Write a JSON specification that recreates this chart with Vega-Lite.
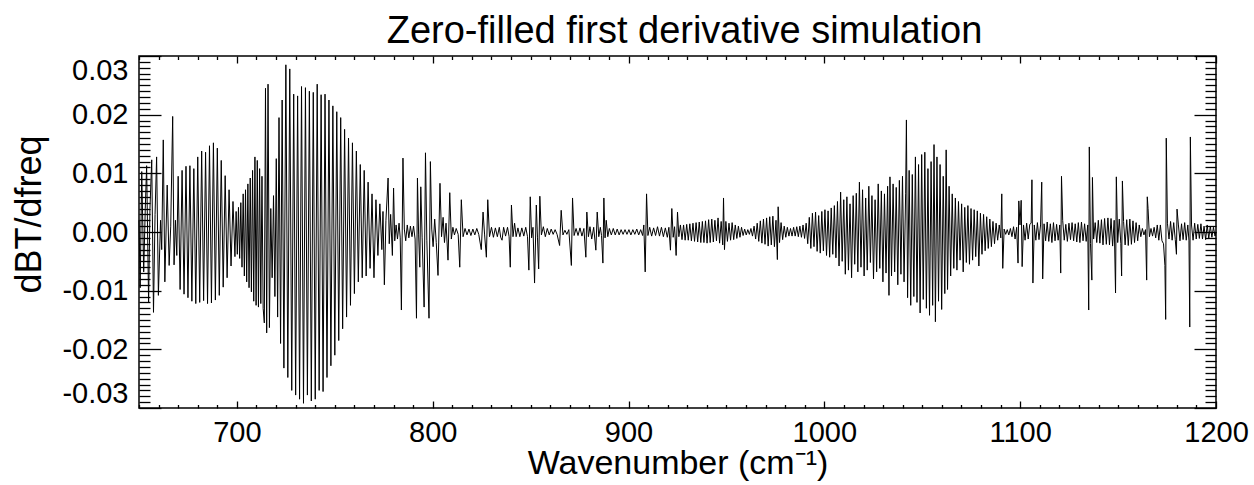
{
"$schema": "https://vega.github.io/schema/vega-lite/v6.json",
"width": 1077, "height": 352,
"autosize": "none",
"padding": {"left": 139, "top": 56, "right": 38, "bottom": 77},
"background": "white",
"config": {"view": {"stroke": "black", "strokeWidth": 1.5}, "font": "Liberation Sans"},
"title": {"text": "Zero-filled first derivative simulation", "fontSize": 38, "font": "Liberation Sans", "fontWeight": "normal", "color": "black", "anchor": "middle", "baseline": "bottom", "offset": 5, "dy": 46, "dx": 7},
"datasets": {
"frame": [{"x": 650, "y": 0}],
"spec": [
{"x":650.0,"y":0.002},{"x":650.6,"y":-0.0095},{"x":651.4,"y":0.0103},{"x":652.4,"y":-0.0068},{"x":653.2,"y":0.004},{"x":653.9,"y":0.0113},{"x":654.9,"y":-0.012},{"x":655.6,"y":0.004},{"x":656.5,"y":0.0123},{"x":657.4,"y":-0.0137},{"x":658.2,"y":0.003},{"x":659.0,"y":0.0128},{"x":659.9,"y":-0.0108},{"x":661.0,"y":0.002},{"x":661.6,"y":-0.003},{"x":662.4,"y":0.0157},{"x":663.2,"y":-0.0085},{"x":664.4,"y":0.008},{"x":665.4,"y":-0.0057},{"x":666.2,"y":0.001},{"x":667.2,"y":0.0197},{"x":667.9,"y":-0.0056},{"x":668.6,"y":0.002},{"x":669.3,"y":-0.004},
{"x":670.0,"y":0.0095},{"x":671.0,"y":-0.0098},{"x":672.0,"y":0.0105},{"x":673.0,"y":-0.0106},{"x":674.0,"y":0.0112},{"x":675.0,"y":-0.0112},{"x":676.0,"y":0.0113},{"x":677.0,"y":-0.0118},{"x":678.0,"y":0.0108},{"x":679.0,"y":-0.0122},{"x":680.0,"y":0.0128},{"x":681.0,"y":-0.012},{"x":682.0,"y":0.0138},{"x":683.0,"y":-0.0117},{"x":684.0,"y":0.0136},{"x":685.0,"y":-0.0122},{"x":686.0,"y":0.0147},{"x":687.0,"y":-0.0121},{"x":688.0,"y":0.0152},{"x":689.0,"y":-0.0116},{"x":690.0,"y":0.0143},{"x":691.0,"y":-0.0108},{"x":692.0,"y":0.0122},{"x":693.0,"y":-0.0094},{"x":694.0,"y":0.0096},{"x":695.0,"y":-0.0078},{"x":696.0,"y":0.0072},{"x":697.0,"y":-0.0058},{"x":698.0,"y":0.0052},{"x":699.0,"y":-0.0042},
{"x":699.6,"y":0.0035},{"x":700.2,"y":-0.0038},{"x":700.8,"y":0.0042},{"x":701.4,"y":-0.0045},{"x":702.0,"y":0.005},{"x":702.6,"y":-0.006},{"x":703.2,"y":0.0065},{"x":703.8,"y":-0.0075},{"x":704.4,"y":0.0072},{"x":705.0,"y":-0.0085},{"x":705.6,"y":0.0082},{"x":706.2,"y":-0.0095},{"x":706.8,"y":0.0092},{"x":707.4,"y":-0.0102},{"x":708.0,"y":0.0105},{"x":708.6,"y":-0.0118},{"x":709.2,"y":0.0128},{"x":709.8,"y":-0.0125},{"x":710.4,"y":0.0122},{"x":711.0,"y":-0.0128},{"x":711.6,"y":0.0108},{"x":712.2,"y":-0.0122},{"x":712.8,"y":0.0095},{"x":713.4,"y":-0.013},
{"x":714.0,"y":-0.0155},{"x":714.6,"y":0.0245},{"x":715.2,"y":-0.0172},{"x":715.9,"y":0.0252},{"x":716.6,"y":-0.0163},{"x":717.3,"y":0.004},{"x":718.0,"y":-0.0078},{"x":718.7,"y":0.0062},{"x":719.4,"y":-0.011},{"x":720.1,"y":0.0125},{"x":720.8,"y":-0.0145},{"x":721.5,"y":0.0195},{"x":722.3,"y":-0.019},{"x":723.1,"y":0.0225},{"x":724.0,"y":-0.0232},{"x":725.0,"y":0.0285},{"x":726.0,"y":-0.0248},{"x":727.0,"y":0.0278},{"x":728.0,"y":-0.027},{"x":729.0,"y":0.0235},{"x":730.0,"y":-0.0278},{"x":731.0,"y":0.0232},{"x":732.0,"y":-0.0285},{"x":733.0,"y":0.0248},{"x":734.0,"y":-0.0292},{"x":735.0,"y":0.0246},{"x":736.0,"y":-0.0278},{"x":737.0,"y":0.024},{"x":738.0,"y":-0.0288},{"x":739.0,"y":0.0238},{"x":740.0,"y":-0.0285},{"x":741.0,"y":0.0252},{"x":742.0,"y":-0.027},{"x":743.0,"y":0.0234},{"x":744.0,"y":-0.0272},
{"x":745.0,"y":0.0235},{"x":746.0,"y":-0.0248},{"x":747.0,"y":0.0225},{"x":748.0,"y":-0.0228},{"x":749.0,"y":0.0215},{"x":750.0,"y":-0.021},{"x":751.0,"y":0.0205},{"x":752.0,"y":-0.0185},{"x":753.0,"y":0.0195},{"x":754.0,"y":-0.0165},{"x":755.0,"y":0.0175},{"x":756.0,"y":-0.0145},{"x":757.0,"y":0.016},{"x":758.0,"y":-0.0125},{"x":759.0,"y":0.0152},{"x":760.0,"y":-0.0105},{"x":761.0,"y":0.0138},{"x":762.0,"y":-0.0085},{"x":763.0,"y":0.0115},{"x":764.0,"y":-0.0078},{"x":765.0,"y":0.0105},{"x":766.0,"y":-0.0075},{"x":767.0,"y":0.0085},{"x":768.0,"y":-0.0062},{"x":769.0,"y":0.0065},{"x":770.0,"y":-0.0078},{"x":771.0,"y":0.0055},{"x":772.0,"y":-0.004},{"x":773.0,"y":0.0048},{"x":774.0,"y":-0.003},{"x":774.6,"y":0.0035},{"x":775.3,"y":-0.009},{"x":776.1,"y":0.002},{"x":777.2,"y":0.0092},{"x":777.8,"y":-0.002},{"x":778.5,"y":0.003},{"x":779.4,"y":-0.004},{"x":780.0,"y":0.0075},{"x":780.6,"y":-0.0015},{"x":781.3,"y":0.0012},{"x":782.0,"y":-0.0012},{"x":782.8,"y":0.0015},{"x":783.4,"y":-0.001},
{"x":784.0,"y":-0.0133},{"x":784.8,"y":0.0126},{"x":785.5,"y":0.0005},{"x":786.2,"y":-0.0015},{"x":787.0,"y":0.0012},{"x":787.8,"y":-0.001},{"x":788.6,"y":0.001},{"x":789.4,"y":-0.0008},{"x":790.2,"y":0.001},{"x":791.0,"y":-0.0012},{"x":791.7,"y":-0.0147},{"x":792.2,"y":0.0092},{"x":792.8,"y":-0.0005},{"x":793.4,"y":-0.006},{"x":793.9,"y":0.0077},{"x":794.6,"y":-0.001},{"x":795.6,"y":-0.0128},{"x":796.3,"y":0.0135},{"x":797.0,"y":-0.0015},{"x":798.1,"y":-0.0147},{"x":798.8,"y":0.012},{"x":799.5,"y":0.0005},
{"x":800.2,"y":-0.0025},{"x":801.0,"y":0.0022},{"x":801.8,"y":-0.0018},{"x":802.7,"y":-0.0074},{"x":803.7,"y":0.0083},{"x":804.5,"y":-0.0008},{"x":805.3,"y":0.0025},{"x":806.0,"y":-0.0018},{"x":806.8,"y":0.0015},{"x":807.8,"y":-0.0048},{"x":808.7,"y":0.0067},{"x":809.5,"y":-0.0012},{"x":810.3,"y":0.0008},{"x":811.1,"y":-0.0005},{"x":812.0,"y":0.0006},{"x":813.0,"y":-0.0004},{"x":813.8,"y":-0.006},{"x":814.6,"y":0.0055},{"x":815.5,"y":-0.0008},
{"x":816.5,"y":0.0006},{"x":817.5,"y":-0.0005},{"x":818.5,"y":0.0005},{"x":819.5,"y":-0.0006},{"x":820.5,"y":0.0005},{"x":821.5,"y":-0.0005},{"x":822.5,"y":0.0006},{"x":823.5,"y":-0.0004},{"x":824.8,"y":-0.003},{"x":825.7,"y":0.0034},{"x":826.5,"y":-0.0005},{"x":827.4,"y":-0.0043},{"x":828.1,"y":0.0055},{"x":829.0,"y":-0.0008},{"x":830.0,"y":0.0008},{"x":831.0,"y":-0.0009},{"x":832.0,"y":0.0007},{"x":833.0,"y":-0.0008},{"x":834.0,"y":0.0008},{"x":834.7,"y":-0.0009},{"x":835.4,"y":-0.0014},{"x":836.2,"y":0.0008},{"x":837.2,"y":-0.0007},{"x":838.2,"y":0.0008},{"x":839.0,"y":-0.0008},{"x":839.6,"y":-0.006},{"x":840.2,"y":0.0046},{"x":841.0,"y":-0.0008},{"x":841.8,"y":0.0015},{"x":842.6,"y":-0.0008},{"x":843.5,"y":0.0007},{"x":844.5,"y":-0.0008},{"x":845.5,"y":0.0007},{"x":846.5,"y":-0.0007},{"x":847.5,"y":0.0008},{"x":848.4,"y":-0.0008},{"x":849.1,"y":-0.0065},{"x":849.8,"y":0.006},{"x":850.5,"y":-0.001},{"x":851.2,"y":0.0008},{"x":852.0,"y":-0.0087},{"x":852.9,"y":0.0046},{"x":853.5,"y":-0.001},{"x":854.1,"y":-0.0063},{"x":854.7,"y":0.0061},{"x":855.5,"y":-0.0005},{"x":856.5,"y":0.0009},{"x":857.5,"y":-0.0008},{"x":858.5,"y":0.0006},{"x":859.5,"y":-0.0005},{"x":860.5,"y":0.0005},{"x":861.5,"y":-0.0004},{"x":862.5,"y":0.0004},{"x":863.5,"y":-0.0004},{"x":864.8,"y":-0.0023},{"x":865.6,"y":0.0037},{"x":866.5,"y":-0.0005},{"x":867.5,"y":0.0003},{"x":868.5,"y":-0.0004},{"x":869.5,"y":0.0004},{"x":870.8,"y":-0.0057},{"x":871.4,"y":0.0058},{"x":872.2,"y":-0.0006},{"x":873.2,"y":0.0006},{"x":874.2,"y":-0.0006},{"x":875.2,"y":0.0007},{"x":876.2,"y":-0.0007},{"x":877.2,"y":0.0006},{"x":878.2,"y":-0.0043},{"x":878.7,"y":0.0034},{"x":879.5,"y":-0.0008},{"x":880.3,"y":0.0009},{"x":881.2,"y":-0.0012},{"x":882.2,"y":0.0008},{"x":883.3,"y":-0.0031},{"x":884.0,"y":0.0034},{"x":884.8,"y":-0.0008},{"x":885.6,"y":0.0008},{"x":886.2,"y":-0.0006},{"x":886.9,"y":-0.0053},{"x":887.4,"y":0.0058},{"x":888.0,"y":-0.001},{"x":888.6,"y":0.002},{"x":889.4,"y":-0.0008},{"x":890.2,"y":0.0006},{"x":891.2,"y":-0.0005},{"x":892.2,"y":0.0006},{"x":893.2,"y":-0.0005},{"x":894.2,"y":0.0005},{"x":895.2,"y":-0.0005},{"x":896.2,"y":0.0004},{"x":897.2,"y":-0.0004},{"x":898.2,"y":0.0004},{"x":899.2,"y":-0.0004},{"x":900.2,"y":0.0004},{"x":901.2,"y":-0.0005},{"x":902.2,"y":0.0004},{"x":903.2,"y":-0.0004},{"x":904.2,"y":0.0005},{"x":905.2,"y":-0.0005},{"x":906.2,"y":0.0004},{"x":907.2,"y":-0.0006},{"x":907.8,"y":0.0012},{"x":908.5,"y":-0.0068},{"x":909.2,"y":0.0065},{"x":909.9,"y":-0.0006},{"x":910.8,"y":0.0008},{"x":911.8,"y":-0.0007},{"x":912.8,"y":0.0007},{"x":913.8,"y":-0.0006},{"x":914.8,"y":0.0009},{"x":915.8,"y":-0.0007},{"x":916.8,"y":0.0008},{"x":917.8,"y":-0.0008},{"x":918.8,"y":0.0007},{"x":919.8,"y":-0.0009},{"x":920.6,"y":0.0008},{"x":921.4,"y":-0.0031},{"x":922.1,"y":0.004},{"x":922.8,"y":-0.0009},{"x":923.5,"y":0.0009},{"x":924.3,"y":-0.004},{"x":925.0,"y":0.0034},{"x":925.7,"y":-0.0008},{"x":926.5,"y":0.0012},{"x":927.3,"y":-0.0013},{"x":928.1,"y":0.0012},{"x":928.9,"y":-0.0014},{"x":929.7,"y":0.0013},{"x":930.5,"y":-0.0014},{"x":931.3,"y":0.0014},{"x":932.1,"y":-0.0015},{"x":932.9,"y":0.0015},{"x":933.7,"y":-0.0016},{"x":934.5,"y":0.0016},{"x":935.3,"y":-0.0017},{"x":936.1,"y":0.0017},{"x":936.9,"y":-0.0018},{"x":937.7,"y":0.0018},{"x":938.5,"y":-0.0018},{"x":939.3,"y":0.0019},{"x":940.1,"y":-0.0019},{"x":940.9,"y":0.0021},
{"x":941.7,"y":-0.0018},{"x":942.5,"y":0.0022},{"x":943.3,"y":-0.0017},{"x":944.1,"y":0.002},{"x":944.9,"y":-0.0015},{"x":945.7,"y":0.0024},{"x":946.5,"y":-0.0019},{"x":947.3,"y":0.0018},{"x":948.1,"y":-0.0022},{"x":948.5,"y":0.0058},{"x":949.0,"y":-0.003},{"x":949.7,"y":0.0018},{"x":950.5,"y":-0.0016},{"x":951.3,"y":0.0015},{"x":952.1,"y":-0.0014},{"x":952.9,"y":0.0016},{"x":953.7,"y":-0.0013},{"x":954.5,"y":0.0012},{"x":955.3,"y":-0.0011},{"x":956.1,"y":0.001},{"x":956.9,"y":-0.0009},{"x":957.7,"y":0.0008},{"x":958.5,"y":-0.0006},{"x":959.3,"y":0.0005},{"x":960.1,"y":-0.0005},{"x":960.9,"y":0.0004},{"x":961.7,"y":-0.0004},{"x":962.5,"y":0.0006},{"x":963.3,"y":-0.0007},{"x":964.1,"y":0.001},{"x":964.9,"y":-0.0012},{"x":965.7,"y":0.0015},{"x":966.5,"y":-0.0016},{"x":967.3,"y":0.0019},{"x":968.1,"y":-0.0019},{"x":968.9,"y":0.0022},{"x":969.7,"y":-0.0021},{"x":970.5,"y":0.0024},{"x":971.3,"y":-0.0024},{"x":972.1,"y":0.0026},{"x":972.9,"y":-0.0022},{"x":973.7,"y":0.0027},{"x":974.5,"y":-0.0025},{"x":975.3,"y":0.002},{"x":976.0,"y":-0.0047},{"x":976.4,"y":0.0043},{"x":977.1,"y":-0.0018},{"x":977.9,"y":0.0016},{"x":978.7,"y":-0.0013},{"x":979.5,"y":0.001},{"x":980.3,"y":-0.0009},{"x":981.1,"y":0.0008},{"x":981.9,"y":-0.0007},{"x":982.7,"y":0.0006},{"x":983.5,"y":-0.0007},{"x":984.3,"y":0.0008},{"x":985.1,"y":-0.0007},{"x":985.9,"y":0.0009},{"x":986.7,"y":-0.0008},{"x":987.5,"y":0.001},{"x":988.3,"y":-0.0009},{"x":989.1,"y":0.0012},{"x":989.9,"y":-0.0011},{"x":990.7,"y":0.0015},{"x":991.5,"y":-0.002},{"x":992.3,"y":0.0025},{"x":993.1,"y":-0.0028},{"x":993.9,"y":0.0032},{"x":994.7,"y":-0.0025},{"x":995.5,"y":0.0034},{"x":996.3,"y":-0.0033},{"x":997.1,"y":0.0028},{"x":997.9,"y":-0.0036},{"x":998.7,"y":0.0035},{"x":999.5,"y":-0.0032},{"x":1000.3,"y":0.0038},{"x":1001.1,"y":-0.004},{"x":1001.9,"y":0.0036},{"x":1002.7,"y":-0.0043},{"x":1003.5,"y":0.0041},{"x":1004.3,"y":-0.0038},{"x":1005.1,"y":0.0045},{"x":1005.9,"y":-0.0044},{"x":1006.7,"y":0.0052},{"x":1007.5,"y":-0.0058},{"x":1008.3,"y":0.0068},{"x":1009.1,"y":-0.005},{"x":1009.9,"y":0.0055},{"x":1010.7,"y":-0.0072},{"x":1011.5,"y":0.006},{"x":1012.3,"y":-0.0065},{"x":1013.1,"y":0.0048},{"x":1013.9,"y":-0.0078},{"x":1014.7,"y":0.0062},{"x":1015.5,"y":-0.0055},{"x":1016.3,"y":0.0066},{"x":1017.1,"y":-0.0068},{"x":1017.9,"y":0.0085},{"x":1018.7,"y":-0.006},{"x":1019.5,"y":0.0072},{"x":1020.3,"y":-0.0075},{"x":1021.1,"y":0.0058},{"x":1021.9,"y":-0.0065},{"x":1022.7,"y":0.0078},{"x":1023.5,"y":-0.0052},{"x":1024.3,"y":0.0062},{"x":1025.1,"y":-0.008},{"x":1025.9,"y":0.0055},{"x":1026.7,"y":-0.0068},{"x":1027.5,"y":0.0082},{"x":1028.3,"y":-0.0062},{"x":1029.1,"y":0.007},{"x":1029.9,"y":-0.0085},{"x":1030.7,"y":0.0065},{"x":1031.5,"y":-0.007},{"x":1032.3,"y":0.0078},{"x":1033.0,"y":-0.0108},{"x":1033.5,"y":0.0094},{"x":1034.3,"y":-0.0075},{"x":1035.1,"y":0.0082},{"x":1035.9,"y":-0.0068},{"x":1036.7,"y":0.0076},{"x":1037.5,"y":-0.009},{"x":1038.3,"y":0.0088},{"x":1039.1,"y":-0.0072},{"x":1039.9,"y":0.0095},{"x":1040.7,"y":-0.0085},{"x":1041.5,"y":0.0065},{"x":1041.9,"y":0.0191},{"x":1042.5,"y":-0.0112},{"x":1043.3,"y":0.0105},{"x":1044.1,"y":-0.0125},{"x":1044.9,"y":0.0098},{"x":1045.7,"y":-0.011},{"x":1046.5,"y":0.0128},{"x":1047.3,"y":-0.012},{"x":1048.1,"y":0.0115},{"x":1048.9,"y":-0.0138},{"x":1049.7,"y":0.0132},{"x":1050.5,"y":-0.0115},{"x":1051.3,"y":0.0136},{"x":1052.1,"y":-0.013},{"x":1052.9,"y":0.0108},{"x":1053.7,"y":-0.0142},{"x":1054.5,"y":0.012},{"x":1055.3,"y":-0.0125},{"x":1056.0,"y":0.0149},{"x":1056.7,"y":-0.0153},{"x":1057.5,"y":0.0128},{"x":1058.3,"y":-0.0118},{"x":1059.1,"y":0.0115},{"x":1059.9,"y":-0.0132},{"x":1060.7,"y":0.0095},{"x":1061.5,"y":-0.0105},{"x":1062.2,"y":0.014},{"x":1062.9,"y":-0.0098},{"x":1063.7,"y":0.0078},{"x":1064.5,"y":-0.0075},{"x":1065.3,"y":0.0065},{"x":1066.1,"y":-0.0062},{"x":1066.9,"y":0.0058},{"x":1067.7,"y":-0.0065},{"x":1068.5,"y":0.0052},{"x":1069.3,"y":-0.0048},{"x":1070.1,"y":0.0048},{"x":1070.9,"y":-0.0068},{"x":1071.7,"y":0.0042},{"x":1072.5,"y":-0.0052},{"x":1073.3,"y":0.0045},{"x":1074.1,"y":-0.0055},{"x":1074.9,"y":0.004},{"x":1075.7,"y":-0.0048},{"x":1076.5,"y":0.0038},{"x":1077.3,"y":-0.0042},{"x":1078.1,"y":0.0036},{"x":1078.9,"y":-0.0058},{"x":1079.7,"y":0.0032},{"x":1080.5,"y":-0.0038},{"x":1081.3,"y":0.003},{"x":1082.1,"y":-0.0032},{"x":1082.9,"y":0.0026},{"x":1083.7,"y":-0.0028},{"x":1084.5,"y":0.0022},{"x":1085.3,"y":-0.0025},{"x":1086.1,"y":0.0018},{"x":1086.9,"y":-0.002},{"x":1087.7,"y":0.0015},{"x":1088.5,"y":-0.0014},{"x":1089.3,"y":0.0012},{"x":1090.1,"y":-0.001},{"x":1090.6,"y":0.0065},{"x":1091.1,"y":-0.0062},
{"x":1091.8,"y":0.0005},{"x":1092.6,"y":-0.0004},{"x":1093.4,"y":0.0004},{"x":1094.2,"y":-0.0005},{"x":1095.0,"y":0.0006},{"x":1095.8,"y":-0.0008},{"x":1096.6,"y":0.0009},{"x":1097.4,"y":-0.0012},{"x":1098.2,"y":0.0008},{"x":1098.9,"y":-0.0053},{"x":1099.3,"y":0.0053},{"x":1099.9,"y":0.0012},{"x":1100.5,"y":0.0054},{"x":1101.0,"y":-0.0059},{"x":1101.7,"y":0.0012},{"x":1102.5,"y":-0.0014},{"x":1103.3,"y":0.0015},{"x":1104.1,"y":-0.0012},{"x":1104.9,"y":0.0013},{"x":1105.6,"y":0.0015},{"x":1106.0,"y":0.0089},{"x":1106.5,"y":-0.0087},{"x":1107.2,"y":0.0012},{"x":1108.0,"y":-0.0014},{"x":1108.8,"y":0.0016},{"x":1109.6,"y":-0.0013},{"x":1110.4,"y":0.0012},{"x":1111.0,"y":0.0085},{"x":1111.5,"y":-0.008},{"x":1112.2,"y":0.0014},{"x":1113.0,"y":-0.0015},{"x":1113.8,"y":0.0017},{"x":1114.6,"y":-0.0016},{"x":1115.4,"y":0.0014},{"x":1116.2,"y":-0.0018},{"x":1117.0,"y":0.0016},{"x":1117.8,"y":-0.0015},{"x":1118.6,"y":0.0013},{"x":1119.4,"y":-0.0014},{"x":1120.2,"y":0.0012},{"x":1120.7,"y":-0.007},{"x":1121.1,"y":0.0095},{"x":1121.7,"y":0.002},{"x":1122.5,"y":-0.0014},{"x":1123.3,"y":0.0013},{"x":1124.1,"y":-0.0016},{"x":1124.9,"y":0.0015},{"x":1125.7,"y":-0.0013},{"x":1126.5,"y":0.0016},{"x":1127.3,"y":-0.0015},{"x":1128.1,"y":0.0014},{"x":1128.9,"y":-0.0017},{"x":1129.7,"y":0.0016},{"x":1130.5,"y":-0.0018},{"x":1131.3,"y":0.0017},{"x":1132.1,"y":-0.0015},{"x":1132.9,"y":0.0014},{"x":1133.7,"y":-0.0016},{"x":1134.5,"y":0.0012},{"x":1135.0,"y":-0.0133},{"x":1135.3,"y":0.0145},{"x":1135.9,"y":-0.002},{"x":1136.6,"y":-0.0082},{"x":1136.9,"y":0.0093},{"x":1137.5,"y":-0.0012},{"x":1138.3,"y":0.0016},{"x":1139.1,"y":-0.0018},{"x":1139.9,"y":0.002},{"x":1140.7,"y":-0.0019},{"x":1141.5,"y":0.0021},{"x":1142.3,"y":-0.0022},{"x":1143.1,"y":0.0023},{"x":1144.0,"y":-0.0021},{"x":1144.8,"y":0.0024},{"x":1145.6,"y":-0.0022},{"x":1146.4,"y":0.0023},{"x":1147.2,"y":-0.0024},{"x":1148.0,"y":0.002},{"x":1148.7,"y":-0.0104},{"x":1149.1,"y":0.0094},{"x":1149.8,"y":-0.0018},{"x":1150.6,"y":0.0022},{"x":1151.4,"y":-0.002},{"x":1151.8,"y":-0.0075},{"x":1152.2,"y":0.0087},{"x":1152.8,"y":0.0018},{"x":1153.6,"y":-0.0022},{"x":1154.4,"y":0.0021},{"x":1155.2,"y":-0.0023},{"x":1156.0,"y":0.0022},{"x":1156.8,"y":-0.0021},{"x":1157.6,"y":0.0019},{"x":1158.4,"y":-0.0018},{"x":1159.2,"y":0.0016},{"x":1160.0,"y":-0.0015},{"x":1160.8,"y":0.0012},{"x":1161.6,"y":-0.0008},{"x":1162.4,"y":0.0006},{"x":1163.2,"y":-0.0005},{"x":1164.0,"y":0.0004},{"x":1164.6,"y":-0.0082},{"x":1164.9,"y":0.006},{"x":1165.3,"y":0.004},{"x":1166.0,"y":-0.0008},{"x":1166.8,"y":0.0006},{"x":1167.6,"y":-0.0007},{"x":1168.4,"y":0.0008},{"x":1169.2,"y":-0.001},{"x":1170.0,"y":0.0012},{"x":1170.8,"y":-0.0014},{"x":1171.6,"y":0.0012},{"x":1172.4,"y":-0.0015},{"x":1173.2,"y":-0.002},{"x":1173.9,"y":-0.0057},{"x":1174.3,"y":-0.0149},{"x":1174.6,"y":0.016},{"x":1175.2,"y":0.0015},{"x":1176.0,"y":-0.0012},{"x":1176.8,"y":0.0018},{"x":1177.6,"y":-0.0014},{"x":1178.4,"y":0.0016},{"x":1179.2,"y":-0.0013},{"x":1179.8,"y":-0.0038},{"x":1180.1,"y":0.0039},{"x":1180.8,"y":0.0012},{"x":1181.6,"y":-0.0015},{"x":1182.4,"y":0.0014},{"x":1183.2,"y":-0.0013},{"x":1184.0,"y":0.0016},{"x":1184.8,"y":-0.0014},{"x":1185.6,"y":0.0012},{"x":1186.2,"y":-0.0015},{"x":1186.6,"y":-0.0162},{"x":1186.9,"y":0.0162},{"x":1187.5,"y":0.0012},{"x":1188.3,"y":-0.0014},{"x":1189.1,"y":0.0015},{"x":1189.9,"y":-0.0012},{"x":1190.7,"y":0.0013},{"x":1191.5,"y":-0.0011},{"x":1192.3,"y":0.0014},{"x":1193.1,"y":-0.0012},{"x":1193.9,"y":0.001},{"x":1194.7,"y":-0.0013},{"x":1195.5,"y":0.0012},{"x":1196.3,"y":-0.0011},{"x":1197.1,"y":0.001},{"x":1197.9,"y":-0.0009},{"x":1198.7,"y":0.0008},{"x":1199.5,"y":-0.0007},{"x":1200.0,"y":0.0}
]
},
"layer": [
{
"data": {"name": "spec"},
"mark": {"type": "line", "color": "black", "strokeWidth": 1},
"encoding": {
"x": {"field": "x", "type": "quantitative",
 "scale": {"domain": [650, 1200], "nice": false, "zero": false},
 "axis": {"orient": "bottom", "title": "Wavenumber (cm⁻¹)", "titleFont": "Liberation Sans", "titleFontSize": 34, "titleFontWeight": "normal", "titleColor": "black", "titleBaseline": "alphabetic", "titleY": 65,
  "values": [650,660,670,680,690,700,710,720,730,740,750,760,770,780,790,800,810,820,830,840,850,860,870,880,890,900,910,920,930,940,950,960,970,980,990,1000,1010,1020,1030,1040,1050,1060,1070,1080,1090,1100,1110,1120,1130,1140,1150,1160,1170,1180,1190,1200],
  "labelExpr": "datum.value % 100 === 0 ? toString(datum.value) : ''",
  "labelFont": "Liberation Sans", "labelFontSize": 29, "labelColor": "black", "labelPadding": 17, "labelFlush": false, "labelOverlap": false, "labelBound": false,
  "tickSize": {"condition": {"test": "datum.value % 100 === 0", "value": -7}, "value": -3.5},
  "tickColor": "black", "tickWidth": 1.3, "domain": false, "grid": false}},
"y": {"field": "y", "type": "quantitative",
 "scale": {"domain": [-0.03, 0.03], "nice": false, "zero": false},
 "axis": {"orient": "left", "title": "dBT/dfreq", "titleFont": "Liberation Sans", "titleFontSize": 36, "titleFontWeight": "normal", "titleColor": "black", "titleBaseline": "alphabetic", "titleX": -99, "titleY": 158, "titleAngle": 270,
  "values": [-0.03,-0.029,-0.028,-0.027,-0.026,-0.025,-0.024,-0.023,-0.022,-0.021,-0.02,-0.019,-0.018,-0.017,-0.016,-0.015,-0.014,-0.013,-0.012,-0.011,-0.01,-0.009,-0.008,-0.007,-0.006,-0.005,-0.004,-0.003,-0.002,-0.001,0,0.001,0.002,0.003,0.004,0.005,0.006,0.007,0.008,0.009,0.01,0.011,0.012,0.013,0.014,0.015,0.016,0.017,0.018,0.019,0.02,0.021,0.022,0.023,0.024,0.025,0.026,0.027,0.028,0.029,0.03],
  "labelExpr": "abs(round(datum.value*1000)) % 10 === 0 ? (datum.value < -0.0005 ? '-' : '') + format(abs(datum.value), '.2f') : ''",
  "labelFont": "Liberation Sans", "labelFontSize": 29, "labelColor": "black", "labelPadding": 33, "labelFlush": true, "labelFlushOffset": 0, "labelOverlap": false, "labelBound": false,
  "tickSize": {"condition": {"test": "abs(round(datum.value*1000)) % 10 === 0", "value": -22}, "value": -11},
  "tickColor": "black", "tickWidth": 1.3, "domain": false, "grid": false}}
}
},
{
"data": {"name": "frame"},
"mark": {"type": "point", "opacity": 0},
"encoding": {
"x": {"field": "x", "type": "quantitative",
 "scale": {"domain": [650, 1200], "nice": false, "zero": false},
 "axis": {"orient": "top", "title": null, "labels": false,
  "values": [650,660,670,680,690,700,710,720,730,740,750,760,770,780,790,800,810,820,830,840,850,860,870,880,890,900,910,920,930,940,950,960,970,980,990,1000,1010,1020,1030,1040,1050,1060,1070,1080,1090,1100,1110,1120,1130,1140,1150,1160,1170,1180,1190,1200],
  "tickSize": {"condition": {"test": "datum.value % 100 === 0", "value": -7}, "value": -3.5},
  "tickColor": "black", "tickWidth": 1.3, "domain": false, "grid": false}},
"y": {"field": "y", "type": "quantitative",
 "scale": {"domain": [-0.03, 0.03], "nice": false, "zero": false},
 "axis": {"orient": "right", "title": null, "labels": false,
  "values": [-0.03,-0.029,-0.028,-0.027,-0.026,-0.025,-0.024,-0.023,-0.022,-0.021,-0.02,-0.019,-0.018,-0.017,-0.016,-0.015,-0.014,-0.013,-0.012,-0.011,-0.01,-0.009,-0.008,-0.007,-0.006,-0.005,-0.004,-0.003,-0.002,-0.001,0,0.001,0.002,0.003,0.004,0.005,0.006,0.007,0.008,0.009,0.01,0.011,0.012,0.013,0.014,0.015,0.016,0.017,0.018,0.019,0.02,0.021,0.022,0.023,0.024,0.025,0.026,0.027,0.028,0.029,0.03],
  "tickSize": {"condition": {"test": "abs(round(datum.value*1000)) % 10 === 0", "value": -22}, "value": -11},
  "tickColor": "black", "tickWidth": 1.3, "domain": false, "grid": false}}
}
}
],
"resolve": {"axis": {"x": "independent", "y": "independent"}}
}
